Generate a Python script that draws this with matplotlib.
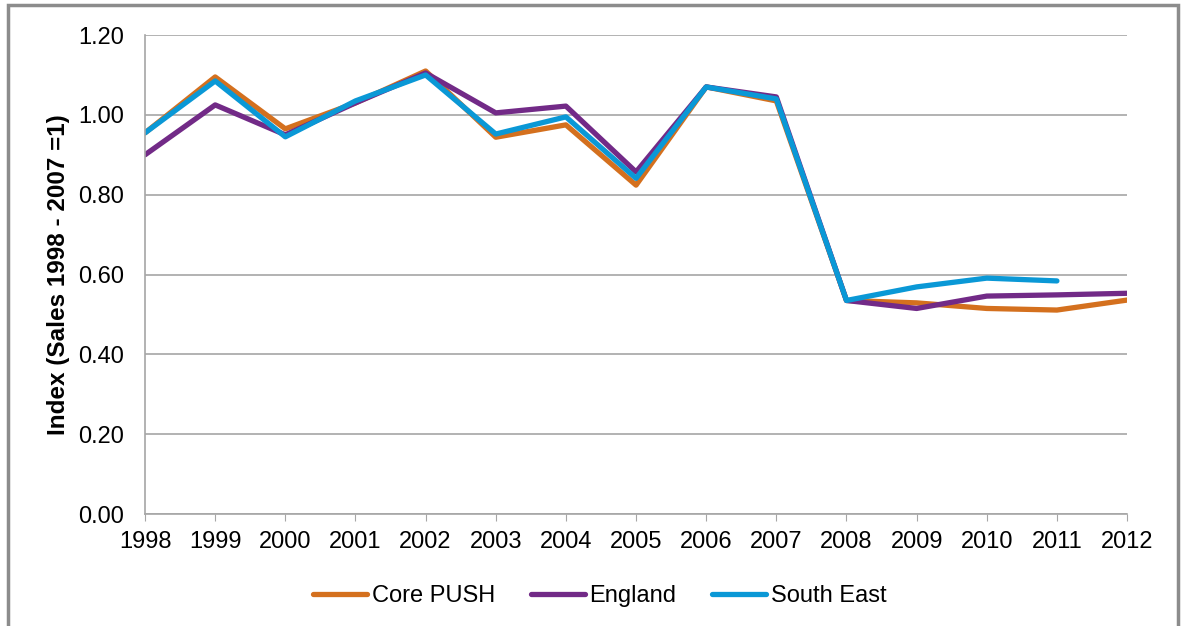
import matplotlib.pyplot as plt
from matplotlib.patches import Rectangle

plt.rcParams['font.family'] = ['Liberation Sans', 'DejaVu Sans']

years = [1998, 1999, 2000, 2001, 2002, 2003, 2004, 2005, 2006, 2007, 2008, 2009, 2010, 2011, 2012]
core_push = [0.955, 1.095, 0.965, 1.03, 1.11, 0.944, 0.975, 0.824, 1.07, 1.035, 0.535, 0.529, 0.515, 0.511, 0.536]
england = [0.90, 1.025, 0.95, 1.03, 1.105, 1.005, 1.022, 0.857, 1.07, 1.045, 0.535, 0.515, 0.546, 0.549, 0.553]
south_east_years = years[:14]
south_east = [0.955, 1.085, 0.945, 1.035, 1.10, 0.952, 0.995, 0.841, 1.07, 1.04, 0.535, 0.569, 0.591, 0.584]

fig = plt.figure(figsize=(11.86, 6.26), dpi=100)
ax = fig.add_axes([0.1223, 0.1789, 0.828, 0.7651])

ax.plot(years, core_push, color='#D4701E', lw=3.8, label='Core PUSH', solid_capstyle='round')
ax.plot(years, england, color='#722A87', lw=3.8, label='England', solid_capstyle='round')
ax.plot(south_east_years, south_east, color='#0A98D6', lw=3.8, label='South East', solid_capstyle='round')

ax.set_xlim(1998, 2012)
ax.set_ylim(0, 1.2)
ax.set_xticks(years)
ax.set_yticks([0, 0.2, 0.4, 0.6, 0.8, 1.0, 1.2])
ax.set_yticklabels(['%.2f' % v for v in ax.get_yticks()])
ax.yaxis.grid(True, color='#A6A6A6', lw=1.2)
ax.set_axisbelow(True)
for s in ['top', 'right']:
    ax.spines[s].set_visible(False)
for s in ['left', 'bottom']:
    ax.spines[s].set_color('#A6A6A6')
    ax.spines[s].set_linewidth(1.2)
ax.tick_params(axis='y', length=0, labelsize=17, pad=15)
ax.tick_params(axis='x', length=5, color='#A6A6A6', labelsize=17, pad=7)
ax.set_ylabel('Index (Sales 1998 - 2007 =1)', fontsize=17.5, fontweight='bold', labelpad=6)

ax.legend(loc='center', bbox_to_anchor=(0.463, -0.172), ncol=3, frameon=False,
          fontsize=17, handlelength=2.3, handletextpad=0.2, columnspacing=1.5)

fig.patches.append(Rectangle((8 / 1186, -0.05), 1170 / 1186, 1.05 - 5 / 626, transform=fig.transFigure,
                             fill=False, edgecolor='#8C8C8C', lw=2.5))

fig.savefig('out.png', dpi=100)
